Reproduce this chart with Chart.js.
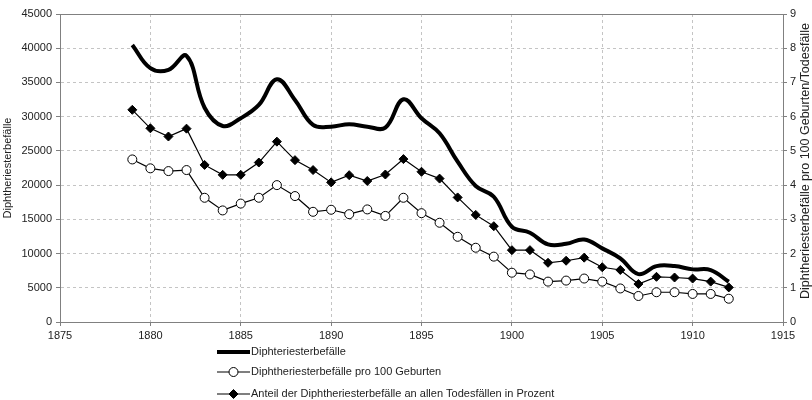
<!DOCTYPE html>
<html>
<head>
<meta charset="utf-8">
<script src="https://cdn.jsdelivr.net/npm/chart.js@4.4.1/dist/chart.umd.min.js"></script>
<style>
  body { margin: 0; background: #fff; }
  #wrap { width: 812px; height: 400px; }
</style>
</head>
<body>
<div id="wrap"><canvas id="c" width="812" height="400"></canvas></div>
<script>
var years = [1879, 1880, 1881, 1882, 1883, 1884, 1885, 1886, 1887, 1888, 1889, 1890,
  1891, 1892, 1893, 1894, 1895, 1896, 1897, 1898, 1899, 1900, 1901, 1902, 1903,
  1904, 1905, 1906, 1907, 1908, 1909, 1910, 1911, 1912];

// Diphtheriesterbefälle (left axis)
var deaths = [40480, 37080, 36830, 38870, 31300, 28640, 29770, 31710, 35470, 32440,
  28790, 28540, 28900, 28540, 28400, 32540, 29770, 27570, 23420, 19870, 18300,
  13920, 13040, 11340, 11420, 12050, 10760, 9300, 7000, 8170, 8170, 7690, 7590, 5880];

// pro 100 Geburten (right axis)
var perBirths = [4.75, 4.49, 4.41, 4.44, 3.63, 3.26, 3.46, 3.63, 4.00, 3.68, 3.22, 3.28,
  3.15, 3.29, 3.10, 3.63, 3.18, 2.90, 2.49, 2.17, 1.91, 1.44, 1.39, 1.18, 1.21,
  1.27, 1.18, 0.98, 0.76, 0.87, 0.87, 0.82, 0.82, 0.68];

// Anteil an allen Todesfällen in Prozent (right axis)
var share = [6.20, 5.66, 5.42, 5.65, 4.59, 4.30, 4.30, 4.66, 5.27, 4.73, 4.44, 4.08,
  4.29, 4.12, 4.31, 4.76, 4.39, 4.19, 3.64, 3.13, 2.80, 2.10, 2.10, 1.73, 1.79,
  1.88, 1.60, 1.52, 1.11, 1.32, 1.30, 1.27, 1.18, 1.01];

var labels = ['Diphteriesterbefälle', 'Diphtheriesterbefälle pro 100 Geburten',
  'Anteil der Diphtheriesterbefälle an allen Todesfällen in Prozent'];
var leftTitle = 'Diphtheriesterbefälle';
var rightTitle = 'Diphtheriesterbefälle pro 100 Geburten/Todesfälle';

function pts(vals) {
  return years.map(function (y, i) { return { x: y, y: vals[i] }; });
}

var FONT = '"Liberation Sans", Arial, sans-serif';
var AXIS = '#808080';

var extras = {
  id: 'extras',
  afterDraw: function (chart) {
    var ctx = chart.ctx, a = chart.chartArea;
    ctx.save();
    // top frame line
    ctx.strokeStyle = AXIS;
    ctx.lineWidth = 1;
    ctx.beginPath();
    ctx.moveTo(a.left, Math.round(a.top) + 0.5);
    ctx.lineTo(a.right, Math.round(a.top) + 0.5);
    ctx.stroke();

    ctx.fillStyle = '#222';
    ctx.font = '11px ' + FONT;
    ctx.textBaseline = 'middle';
    // left title
    ctx.save();
    ctx.translate(8, (a.top + a.bottom) / 2);
    ctx.rotate(-Math.PI / 2);
    ctx.textAlign = 'center';
    ctx.fillText(leftTitle, 0, 0);
    ctx.restore();
    // right title, cut off at the top like the original
    ctx.save();
    ctx.beginPath();
    ctx.rect(795, 12, 17, 300);
    ctx.clip();
    ctx.translate(806, 299);
    ctx.rotate(-Math.PI / 2);
    ctx.textAlign = 'left';
    ctx.font = '12.5px ' + FONT;
    ctx.fillText(rightTitle, 0, 0);
    ctx.restore();

    // legend
    var rows = [352, 372, 394];
    var x0 = 217, x1 = 250, xm = 233.5;
    chart.data.datasets.forEach(function (ds, i) {
      var y = rows[i];
      ctx.strokeStyle = '#000';
      ctx.lineWidth = ds.borderWidth;
      ctx.beginPath();
      ctx.moveTo(x0, y);
      ctx.lineTo(x1, y);
      ctx.stroke();
      ctx.lineWidth = 1;
      if (ds.pointStyle === 'circle') {
        ctx.fillStyle = '#fff';
        ctx.beginPath();
        ctx.arc(xm, y, ds.pointRadius, 0, Math.PI * 2);
        ctx.fill();
        ctx.stroke();
      } else if (ds.pointStyle === 'rectRot') {
        var r = ds.pointRadius;
        ctx.fillStyle = '#000';
        ctx.beginPath();
        ctx.moveTo(xm - r, y);
        ctx.lineTo(xm, y - r);
        ctx.lineTo(xm + r, y);
        ctx.lineTo(xm, y + r);
        ctx.closePath();
        ctx.fill();
        ctx.stroke();
      }
      ctx.fillStyle = '#222';
      ctx.textAlign = 'left';
      ctx.font = '11px ' + FONT;
      ctx.fillText(labels[i], x1 + 1, y);
    });
    ctx.restore();
  }
};

Chart.defaults.font.family = FONT;
Chart.defaults.font.size = 11;
Chart.defaults.color = '#222';

new Chart(document.getElementById('c'), {
  type: 'line',
  data: {
    datasets: [{
      label: labels[0],
      data: pts(deaths),
      yAxisID: 'y',
      borderColor: '#000',
      borderWidth: 4,
      pointRadius: 0,
      tension: 0.4,
      fill: false
    }, {
      label: labels[1],
      data: pts(perBirths),
      yAxisID: 'y2',
      borderColor: '#000',
      borderWidth: 1.2,
      pointStyle: 'circle',
      pointRadius: 4.5,
      pointBackgroundColor: '#fff',
      pointBorderColor: '#000',
      pointBorderWidth: 1,
      tension: 0,
      fill: false
    }, {
      label: labels[2],
      data: pts(share),
      yAxisID: 'y2',
      borderColor: '#000',
      borderWidth: 1.2,
      pointStyle: 'rectRot',
      pointRadius: 4.5,
      pointBackgroundColor: '#000',
      pointBorderColor: '#000',
      pointBorderWidth: 1,
      tension: 0,
      fill: false
    }]
  },
  options: {
    responsive: false,
    animation: false,
    layout: { padding: { top: 14, bottom: 60, left: 0, right: 0 } },
    plugins: { legend: { display: false }, tooltip: { enabled: false } },
    scales: {
      x: {
        type: 'linear',
        position: 'bottom',
        min: 1875,
        max: 1915,
        ticks: { stepSize: 5, padding: 3, maxRotation: 0, callback: function (v) { return String(v); } },
        grid: { color: '#c4c4c4', tickColor: AXIS, tickLength: 4 },
        border: { color: AXIS, width: 1, dash: [3, 3] },
        afterFit: function (s) { s.height = 18; }
      },
      y: {
        position: 'left',
        min: 0,
        max: 45000,
        ticks: { stepSize: 5000, padding: 4, callback: function (v) { return String(v); } },
        grid: { color: '#c4c4c4', tickColor: AXIS, tickLength: 4 },
        border: { color: AXIS, width: 1, dash: [3, 3] },
        afterFit: function (s) { s.width = 60; }
      },
      y2: {
        position: 'right',
        min: 0,
        max: 9,
        ticks: { stepSize: 1, padding: 3 },
        grid: { drawOnChartArea: false, tickColor: AXIS, tickLength: 4 },
        border: { color: AXIS, width: 1 },
        afterFit: function (s) { s.width = 29; }
      }
    }
  },
  plugins: [extras]
});
</script>
</body>
</html>
